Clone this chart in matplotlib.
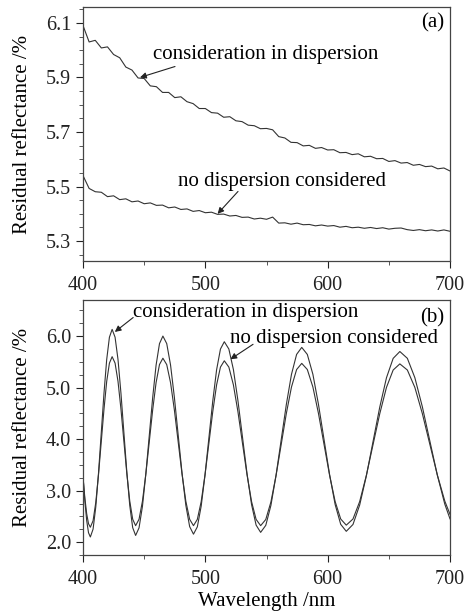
import matplotlib
matplotlib.use("Agg")
import matplotlib.pyplot as plt
from matplotlib.ticker import MultipleLocator, FixedLocator, FormatStrFormatter

plt.rcParams['font.family'] = ['Liberation Serif', 'DejaVu Serif']

# panel (a): measured-like residual reflectance, 5 nm steps
wl_a = list(range(400, 701, 5))
refl_disp_a = [6.090, 6.030, 6.036, 6.008, 6.012, 5.984, 5.972, 5.938, 5.927, 5.898,
               5.896, 5.869, 5.866, 5.845, 5.845, 5.826, 5.829, 5.811, 5.804, 5.786,
               5.786, 5.771, 5.769, 5.754, 5.756, 5.741, 5.738, 5.725, 5.723, 5.712,
               5.713, 5.708, 5.683, 5.678, 5.662, 5.661, 5.649, 5.651, 5.640, 5.643,
               5.634, 5.635, 5.624, 5.625, 5.617, 5.620, 5.609, 5.611, 5.602, 5.603,
               5.592, 5.595, 5.586, 5.588, 5.578, 5.581, 5.573, 5.575, 5.565, 5.568,
               5.557]
refl_nodisp_a = [5.540, 5.493, 5.481, 5.479, 5.463, 5.466, 5.452, 5.455, 5.444, 5.447,
                 5.437, 5.440, 5.431, 5.432, 5.422, 5.425, 5.416, 5.418, 5.409, 5.412,
                 5.404, 5.406, 5.398, 5.399, 5.392, 5.394, 5.387, 5.388, 5.381, 5.384,
                 5.380, 5.388, 5.366, 5.367, 5.362, 5.366, 5.360, 5.361, 5.356, 5.359,
                 5.355, 5.357, 5.351, 5.354, 5.349, 5.351, 5.347, 5.350, 5.346, 5.349,
                 5.344, 5.347, 5.348, 5.342, 5.339, 5.342, 5.338, 5.341, 5.337, 5.341,
                 5.336]
yticks_a = [5.3, 5.5, 5.7, 5.9, 6.1]

# panel (b): oscillating residual reflectance
wl_b = [400, 401.5, 403, 404.5, 406.0,
        408.23, 410.45, 412.68, 414.9, 417.13, 419.35, 421.58, 423.8,
        426.2, 428.6, 431.0, 433.4, 435.8, 438.2, 440.6, 443.0,
        445.79, 448.58, 451.36, 454.15, 456.94, 459.73, 462.51, 465.3,
        468.43, 471.55, 474.68, 477.8, 480.93, 484.05, 487.18, 490.3,
        493.45, 496.6, 499.75, 502.9, 506.05, 509.2, 512.35, 515.5,
        519.21, 522.93, 526.64, 530.35, 534.06, 537.78, 541.49, 545.2,
        549.4, 553.6, 557.8, 562.0, 566.2, 570.4, 574.6, 578.8,
        583.35, 587.9, 592.45, 597.0, 601.55, 606.1, 610.65, 615.2,
        620.68, 626.15, 631.63, 637.1, 642.58, 648.05, 653.53, 659.0,
        665.13, 671.25, 677.38, 683.5, 689.63, 695.75, 700]
refl_disp_b = [3.285, 2.799, 2.42, 2.182, 2.10,
               2.253, 2.688, 3.345, 4.115, 4.885, 5.542, 5.977, 6.13,
               5.978, 5.546, 4.894, 4.13, 3.366, 2.714, 2.282, 2.13,
               2.277, 2.695, 3.326, 4.065, 4.804, 5.435, 5.853, 6.00,
               5.854, 5.439, 4.812, 4.078, 3.343, 2.716, 2.301, 2.155,
               2.297, 2.70, 3.309, 4.023, 4.736, 5.345, 5.748, 5.89,
               5.749, 5.35, 4.747, 4.04, 3.333, 2.73, 2.331, 2.19,
               2.326, 2.714, 3.299, 3.985, 4.671, 5.256, 5.644, 5.78,
               5.644, 5.259, 4.677, 3.995, 3.313, 2.731, 2.346, 2.21,
               2.343, 2.72, 3.288, 3.955, 4.622, 5.19, 5.567, 5.70,
               5.568, 5.193, 4.628, 3.965, 3.302, 2.737, 2.452]
refl_nodisp_b = [3.255, 2.859, 2.551, 2.357, 2.29,
                 2.416, 2.773, 3.313, 3.945, 4.577, 5.117, 5.474, 5.60,
                 5.475, 5.121, 4.586, 3.96, 3.334, 2.799, 2.445, 2.32,
                 2.444, 2.795, 3.324, 3.945, 4.566, 5.096, 5.447, 5.57,
                 5.446, 5.095, 4.566, 3.945, 3.324, 2.794, 2.443, 2.32,
                 2.442, 2.787, 3.309, 3.92, 4.531, 5.053, 5.398, 5.52,
                 5.398, 5.053, 4.531, 3.92, 3.309, 2.787, 2.442, 2.32,
                 2.44, 2.78, 3.293, 3.895, 4.497, 5.01, 5.35, 5.47,
                 5.351, 5.012, 4.50, 3.90, 3.30, 2.788, 2.449, 2.33,
                 2.449, 2.787, 3.297, 3.895, 4.493, 5.003, 5.341, 5.46,
                 5.341, 5.004, 4.496, 3.90, 3.304, 2.796, 2.54]

LINE = '#333333'
FS = 15


def style_axis(ax, fmt):
    ax.set_xlim(400, 700)
    ax.xaxis.set_major_locator(MultipleLocator(100))
    ax.xaxis.set_minor_locator(MultipleLocator(50))
    ax.yaxis.set_major_formatter(FormatStrFormatter(fmt))
    ax.tick_params(which='major', direction='out', length=5, width=0.8,
                   labelsize=14.5, colors='#222222', top=False, right=False)
    ax.tick_params(which='minor', direction='out', length=3, width=0.7,
                   colors='#555555', top=False, right=False)
    ax.tick_params(axis='x', pad=6)
    for s in ax.spines.values():
        s.set_color('#444444')
        s.set_linewidth(0.9)
    ax.set_ylabel('Residual reflectance /%', fontsize=FS)
    ax.yaxis.set_label_coords(-0.138, 0.5)


fig = plt.figure(figsize=(4.76, 6.12), dpi=100)

# (a)
ax1 = fig.add_axes([0.1744, 0.5735, 0.771, 0.4150])
ax1.plot(wl_a, refl_disp_a, color=LINE, lw=0.8)
ax1.plot(wl_a, refl_nodisp_a, color=LINE, lw=0.8)
ax1.set_ylim(5.227, 6.158)
ax1.yaxis.set_major_locator(FixedLocator(yticks_a))
ax1.yaxis.set_minor_locator(MultipleLocator(0.05))
style_axis(ax1, '%.1f')
ax1.text(0.985, 0.937, '(a)', transform=ax1.transAxes, ha='right', va='center', fontsize=FS)
arrow = dict(arrowstyle='-|>', color='#222222', lw=0.8, mutation_scale=9,
             shrinkA=0, shrinkB=0)
ax1.annotate('', xy=(446.6, 5.90), xytext=(475.2, 5.94), arrowprops=arrow)
ax1.text(457, 5.984, 'consideration in dispersion', fontsize=FS, va='center', ha='left')
ax1.annotate('', xy=(510, 5.40), xytext=(526.7, 5.482), arrowprops=arrow)
ax1.text(478, 5.52, 'no dispersion considered', fontsize=FS, va='center', ha='left')

# (b)
ax2 = fig.add_axes([0.1744, 0.0931, 0.771, 0.4167])
ax2.plot(wl_b, refl_disp_b, color=LINE, lw=0.8)
ax2.plot(wl_b, refl_nodisp_b, color=LINE, lw=0.8)
ax2.set_ylim(1.75, 6.70)
ax2.yaxis.set_major_locator(MultipleLocator(1.0))
ax2.yaxis.set_minor_locator(MultipleLocator(0.25))
style_axis(ax2, '%.1f')
ax2.set_xlabel('Wavelength /nm', fontsize=FS, labelpad=2)
ax2.text(0.985, 0.93, '(b)', transform=ax2.transAxes, ha='right', va='center', fontsize=FS)
ax2.annotate('', xy=(426, 6.08), xytext=(441, 6.36), arrowprops=arrow)
ax2.text(441, 6.45, 'consideration in dispersion', fontsize=FS, va='center', ha='left')
ax2.annotate('', xy=(520.5, 5.55), xytext=(539, 5.84), arrowprops=arrow)
ax2.text(520, 5.96, 'no dispersion considered', fontsize=FS, va='center', ha='left')

fig.savefig('out.png', dpi=100)
